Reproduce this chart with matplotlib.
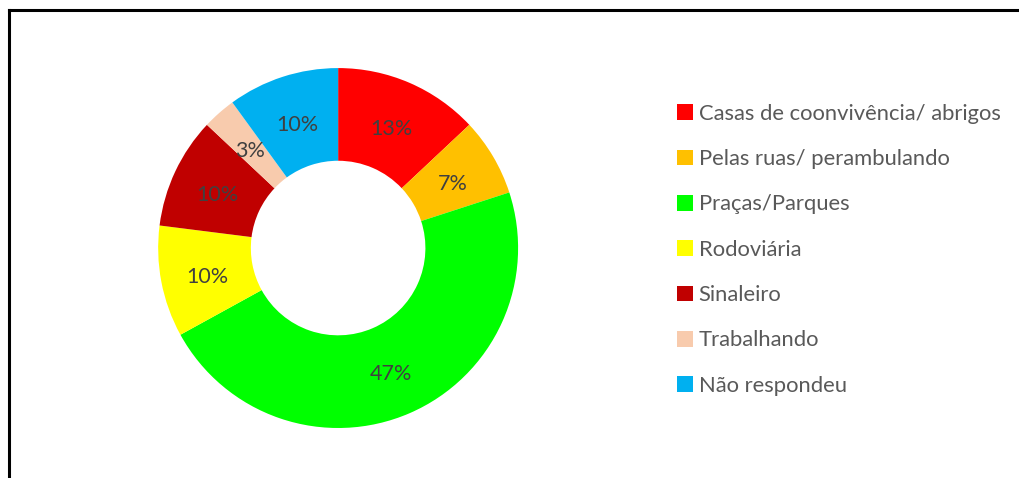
import matplotlib
matplotlib.use("Agg")
import matplotlib.pyplot as plt
from matplotlib.patches import Patch
from matplotlib.lines import Line2D

plt.rcParams['font.family'] = ['Lato', 'DejaVu Sans']

categories = ["Casas de coonvivência/ abrigos", "Pelas ruas/ perambulando",
              "Praças/Parques", "Rodoviária", "Sinaleiro", "Trabalhando",
              "Não respondeu"]
values = [13, 7, 47, 10, 10, 3, 10]
colors = ["#FF0000", "#FFC000", "#00FF00", "#FFFF00", "#C00000", "#F8CBAD", "#00B0F0"]

fig = plt.figure(figsize=(10.2, 4.78), dpi=100)

# frame around chart area (cut off right/bottom as in the source)
fig.add_artist(Line2D([0.009, 0.009], [0.0, 0.979], color="black", lw=2.2, transform=fig.transFigure))
fig.add_artist(Line2D([0.009, 1.0], [0.979, 0.979], color="black", lw=2.2, transform=fig.transFigure))

ax = fig.add_axes([0.155, 0.1046, 0.353, 0.753])
wedges, texts, autotexts = ax.pie(values, colors=colors, startangle=90, counterclock=False,
                                  radius=1.0, wedgeprops=dict(width=0.515, linewidth=0),
                                  autopct=lambda p: f"{p:.0f}%", pctdistance=0.742,
                                  textprops=dict(color="#404040", fontsize=15.5))
for t in autotexts:
    x, y = t.get_position()
    t.set_position((x, y - 0.02))
ax.set_xlim(-1, 1)
ax.set_ylim(-1, 1)
ax.set_aspect("equal")

handles = [Patch(facecolor=c, edgecolor="none") for c in colors]
fig.legend(handles, categories, loc="upper left", bbox_to_anchor=(0.664, 0.783),
           frameon=False, fontsize=15.8, labelcolor="#595959",
           handlelength=0.72, handleheight=0.72, handletextpad=0.25,
           labelspacing=1.155, borderpad=0, borderaxespad=0)

fig.savefig("out.png", dpi=100)
